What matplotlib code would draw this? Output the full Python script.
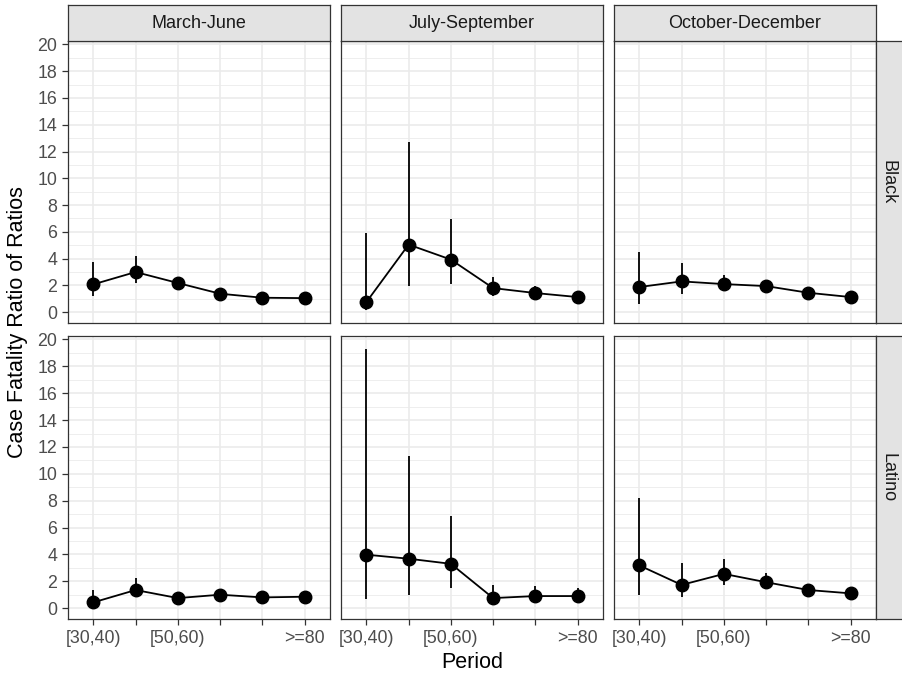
import matplotlib.pyplot as plt
from matplotlib.ticker import MultipleLocator

plt.rcParams['font.family'] = ['Liberation Sans', 'DejaVu Sans']

# age bands on the x axis, only some of them labelled
age_groups = ['[30,40)', '[40,50)', '[50,60)', '[60,70)', '[70,80)', '>=80']
tick_labels = ['[30,40)', '', '[50,60)', '', '', '>=80']
periods = ['March-June', 'July-September', 'October-December']
groups = ['Black', 'Latino']

# ratio of ratios with lower / upper interval, one set per panel
black_mar_jun = [2.08, 3.00, 2.18, 1.38, 1.08, 1.05]
black_mar_jun_lo = [1.18, 2.20, 1.95, 1.20, 0.95, 0.92]
black_mar_jun_hi = [3.73, 4.18, 2.45, 1.60, 1.22, 1.18]

black_jul_sep = [0.75, 5.05, 3.93, 1.80, 1.43, 1.13]
black_jul_sep_lo = [0.15, 1.93, 2.13, 1.18, 1.00, 0.90]
black_jul_sep_hi = [5.93, 12.68, 6.93, 2.63, 1.93, 1.35]

black_oct_dec = [1.88, 2.30, 2.10, 1.95, 1.45, 1.13]
black_oct_dec_lo = [0.63, 1.33, 1.55, 1.70, 1.25, 0.98]
black_oct_dec_hi = [4.50, 3.70, 2.75, 2.20, 1.65, 1.28]

latino_mar_jun = [0.43, 1.35, 0.75, 1.00, 0.80, 0.85]
latino_mar_jun_lo = [0.15, 0.85, 0.60, 0.80, 0.65, 0.72]
latino_mar_jun_hi = [1.35, 2.25, 0.95, 1.20, 0.95, 1.00]

latino_jul_sep = [3.98, 3.68, 3.30, 0.75, 0.90, 0.90]
latino_jul_sep_lo = [0.68, 1.00, 1.48, 0.35, 0.48, 0.55]
latino_jul_sep_hi = [19.30, 11.30, 6.85, 1.75, 1.63, 1.48]

latino_oct_dec = [3.18, 1.73, 2.55, 1.93, 1.35, 1.10]
latino_oct_dec_lo = [0.98, 0.80, 1.73, 1.48, 1.12, 0.95]
latino_oct_dec_hi = [8.18, 3.38, 3.63, 2.63, 1.60, 1.28]

panels = {
    ('Black', 'March-June'): (black_mar_jun, black_mar_jun_lo, black_mar_jun_hi),
    ('Black', 'July-September'): (black_jul_sep, black_jul_sep_lo, black_jul_sep_hi),
    ('Black', 'October-December'): (black_oct_dec, black_oct_dec_lo, black_oct_dec_hi),
    ('Latino', 'March-June'): (latino_mar_jun, latino_mar_jun_lo, latino_mar_jun_hi),
    ('Latino', 'July-September'): (latino_jul_sep, latino_jul_sep_lo, latino_jul_sep_hi),
    ('Latino', 'October-December'): (latino_oct_dec, latino_oct_dec_lo, latino_oct_dec_hi),
}

W, H = 902, 674
fig = plt.figure(figsize=(W / 100, H / 100), dpi=100)
fig.patch.set_facecolor('white')


def px_axes(x0, y0, x1, y1):
    return fig.add_axes([x0 / W, 1 - y1 / H, (x1 - x0) / W, (y1 - y0) / H])


col_x = [(68, 330), (341, 603), (614, 876)]
row_y = [(41, 323), (336, 619)]
border = '#333333'
strip_fill = '#E3E3E3'

# shared y range: data range plus 5% each side
all_lo = min(min(v[1]) for v in panels.values())
all_hi = max(max(v[2]) for v in panels.values())
pad = (all_hi - all_lo) * 0.05
ylim = (all_lo - pad, all_hi + pad)
xs = list(range(1, len(age_groups) + 1))

for r, g in enumerate(groups):
    for c, p in enumerate(periods):
        est, lo, hi = panels[(g, p)]
        ax = px_axes(col_x[c][0], row_y[r][0], col_x[c][1], row_y[r][1])
        ax.set_xlim(0.4, len(age_groups) + 0.6)
        ax.set_ylim(*ylim)
        ax.yaxis.set_major_locator(MultipleLocator(2))
        ax.yaxis.set_minor_locator(MultipleLocator(1))
        ax.set_xticks(xs)
        ax.grid(True, which='major', color='#EBEBEB', lw=1.2)
        ax.grid(True, which='minor', axis='y', color='#EBEBEB', lw=0.6)
        ax.set_axisbelow(True)
        for s in ax.spines.values():
            s.set_color(border)
            s.set_linewidth(0.9)

        ax.vlines(xs, lo, hi, color='black', lw=1.3, zorder=3)
        ax.plot(xs, est, color='black', lw=1.3, zorder=3)
        ax.plot(xs, est, 'o', color='black', ms=9, zorder=4)

        ax.tick_params(which='minor', length=0)
        ax.tick_params(which='major', color=border, length=4.3, width=0.9,
                       labelsize=12.8, labelcolor='#4D4D4D', pad=3.5)
        if c == 0:
            ax.set_yticklabels([f'{int(t)}' for t in ax.get_yticks()])
        else:
            ax.tick_params(axis='y', length=0, labelleft=False)
        if r == len(groups) - 1:
            ax.set_xticklabels(tick_labels)
        else:
            ax.tick_params(axis='x', length=0, labelbottom=False)

# period strips along the top
for c, p in enumerate(periods):
    sa = px_axes(col_x[c][0], 5, col_x[c][1], row_y[0][0])
    sa.set_facecolor(strip_fill)
    sa.set_xticks([])
    sa.set_yticks([])
    for s in sa.spines.values():
        s.set_color(border)
        s.set_linewidth(0.9)
    sa.text(0.5, 0.5, p, ha='center', va='center', fontsize=13,
            color='#1A1A1A', transform=sa.transAxes)

# group strips on the right
for r, g in enumerate(groups):
    sa = px_axes(col_x[2][1], row_y[r][0], W + 2, row_y[r][1])
    sa.set_facecolor(strip_fill)
    sa.set_xticks([])
    sa.set_yticks([])
    for s in sa.spines.values():
        s.set_color(border)
        s.set_linewidth(0.9)
    sa.text(0.42, 0.5, g, ha='center', va='center', fontsize=13, rotation=-90,
            color='#1A1A1A', transform=sa.transAxes)

fig.text(18 / W, 1 - 322 / H, 'Case Fatality Ratio of Ratios', rotation=90,
         ha='center', va='center', fontsize=15.5)
fig.text(472 / W, 1 - 663 / H, 'Period', ha='center', va='center', fontsize=15.5)

fig.savefig('out.png', dpi=100)
